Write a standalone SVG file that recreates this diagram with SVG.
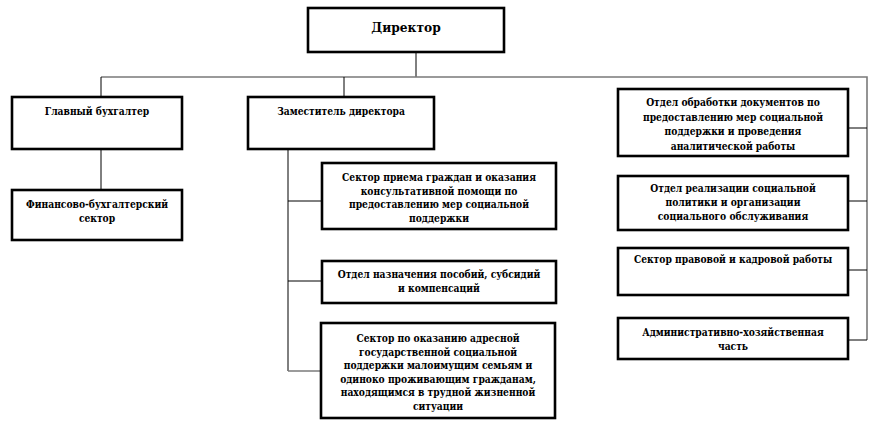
<svg xmlns="http://www.w3.org/2000/svg" width="877" height="443" viewBox="0 0 877 443">
<style>
.box{fill:#fff;stroke:#000;stroke-width:2.6}
.t{font-family:'DejaVu Serif Condensed','DejaVu Serif',serif;font-stretch:condensed;font-weight:700;font-size:10.2px;fill:#000;text-anchor:middle}
.big{font-size:13.6px}
.c{stroke:#000;stroke-width:1;fill:none}
.g{stroke:#7a7a7a;stroke-width:1.6;fill:none}
</style>
<rect width="877" height="443" fill="#fff"/>
<g id="connectors">
<path class="c" d="M416 52V77"/>
<path class="g" d="M101 77H867V340"/>
<path class="c" d="M101 77V97M344 77V97"/>
<path class="c" d="M101 149V190"/>
<path class="c" d="M288 149V371"/>
<path class="c" d="M288 201H322M288 281H322"/>
<path class="g" d="M288 371H321"/>
<path class="c" d="M848 128H867M848 201H867M848 270H867M848 340H867"/>
</g>
<g id="director"><rect class="box" x="308" y="8" width="196" height="44"/><text class="t big" x="406" y="32">Директор</text></g>
<g id="chief-accountant"><rect class="box" x="12" y="97" width="170" height="52"/><text class="t" x="97" y="115">Главный бухгалтер</text></g>
<g id="deputy"><rect class="box" x="248" y="97" width="186" height="52"/><text class="t" x="341" y="115">Заместитель директора</text></g>
<g id="finance"><rect class="box" x="12" y="190" width="170" height="50"/><text class="t" x="97" y="208">Финансово-бухгалтерский</text><text class="t" x="97" y="222">сектор</text></g>
<g id="reception"><rect class="box" x="322" y="163" width="234" height="66"/><text class="t" x="439" y="181">Сектор приема граждан и оказания</text><text class="t" x="439" y="194.5">консультативной помощи по</text><text class="t" x="439" y="208">предоставлению мер социальной</text><text class="t" x="439" y="221.5">поддержки</text></g>
<g id="benefits"><rect class="box" x="322" y="261" width="234" height="42"/><text class="t" x="439" y="278">Отдел назначения пособий, субсидий</text><text class="t" x="439" y="292">и компенсаций</text></g>
<g id="targeted"><rect class="box" x="321" y="323" width="234" height="95"/><text class="t" x="438" y="342">Сектор по оказанию адресной</text><text class="t" x="438" y="355.5">государственной социальной</text><text class="t" x="438" y="369">поддержки малоимущим семьям и</text><text class="t" x="438" y="382.5">одиноко проживающим гражданам,</text><text class="t" x="438" y="396">находящимся в трудной жизненной</text><text class="t" x="438" y="409.5">ситуации</text></g>
<g id="documents"><rect class="box" x="618" y="89" width="230" height="67"/><text class="t" x="733" y="106">Отдел обработки документов по</text><text class="t" x="733" y="120.5">предоставлению мер социальной</text><text class="t" x="733" y="135">поддержки и проведения</text><text class="t" x="733" y="149.5">аналитической работы</text></g>
<g id="social-policy"><rect class="box" x="618" y="176" width="230" height="54"/><text class="t" x="733" y="192">Отдел реализации социальной</text><text class="t" x="733" y="206">политики и организации</text><text class="t" x="733" y="220">социального обслуживания</text></g>
<g id="legal"><rect class="box" x="618" y="248" width="230" height="47"/><text class="t" x="733" y="263">Сектор правовой и кадровой работы</text></g>
<g id="admin"><rect class="box" x="618" y="318" width="230" height="41"/><text class="t" x="733" y="336">Административно-хозяйственная</text><text class="t" x="733" y="349.5">часть</text></g>
</svg>
